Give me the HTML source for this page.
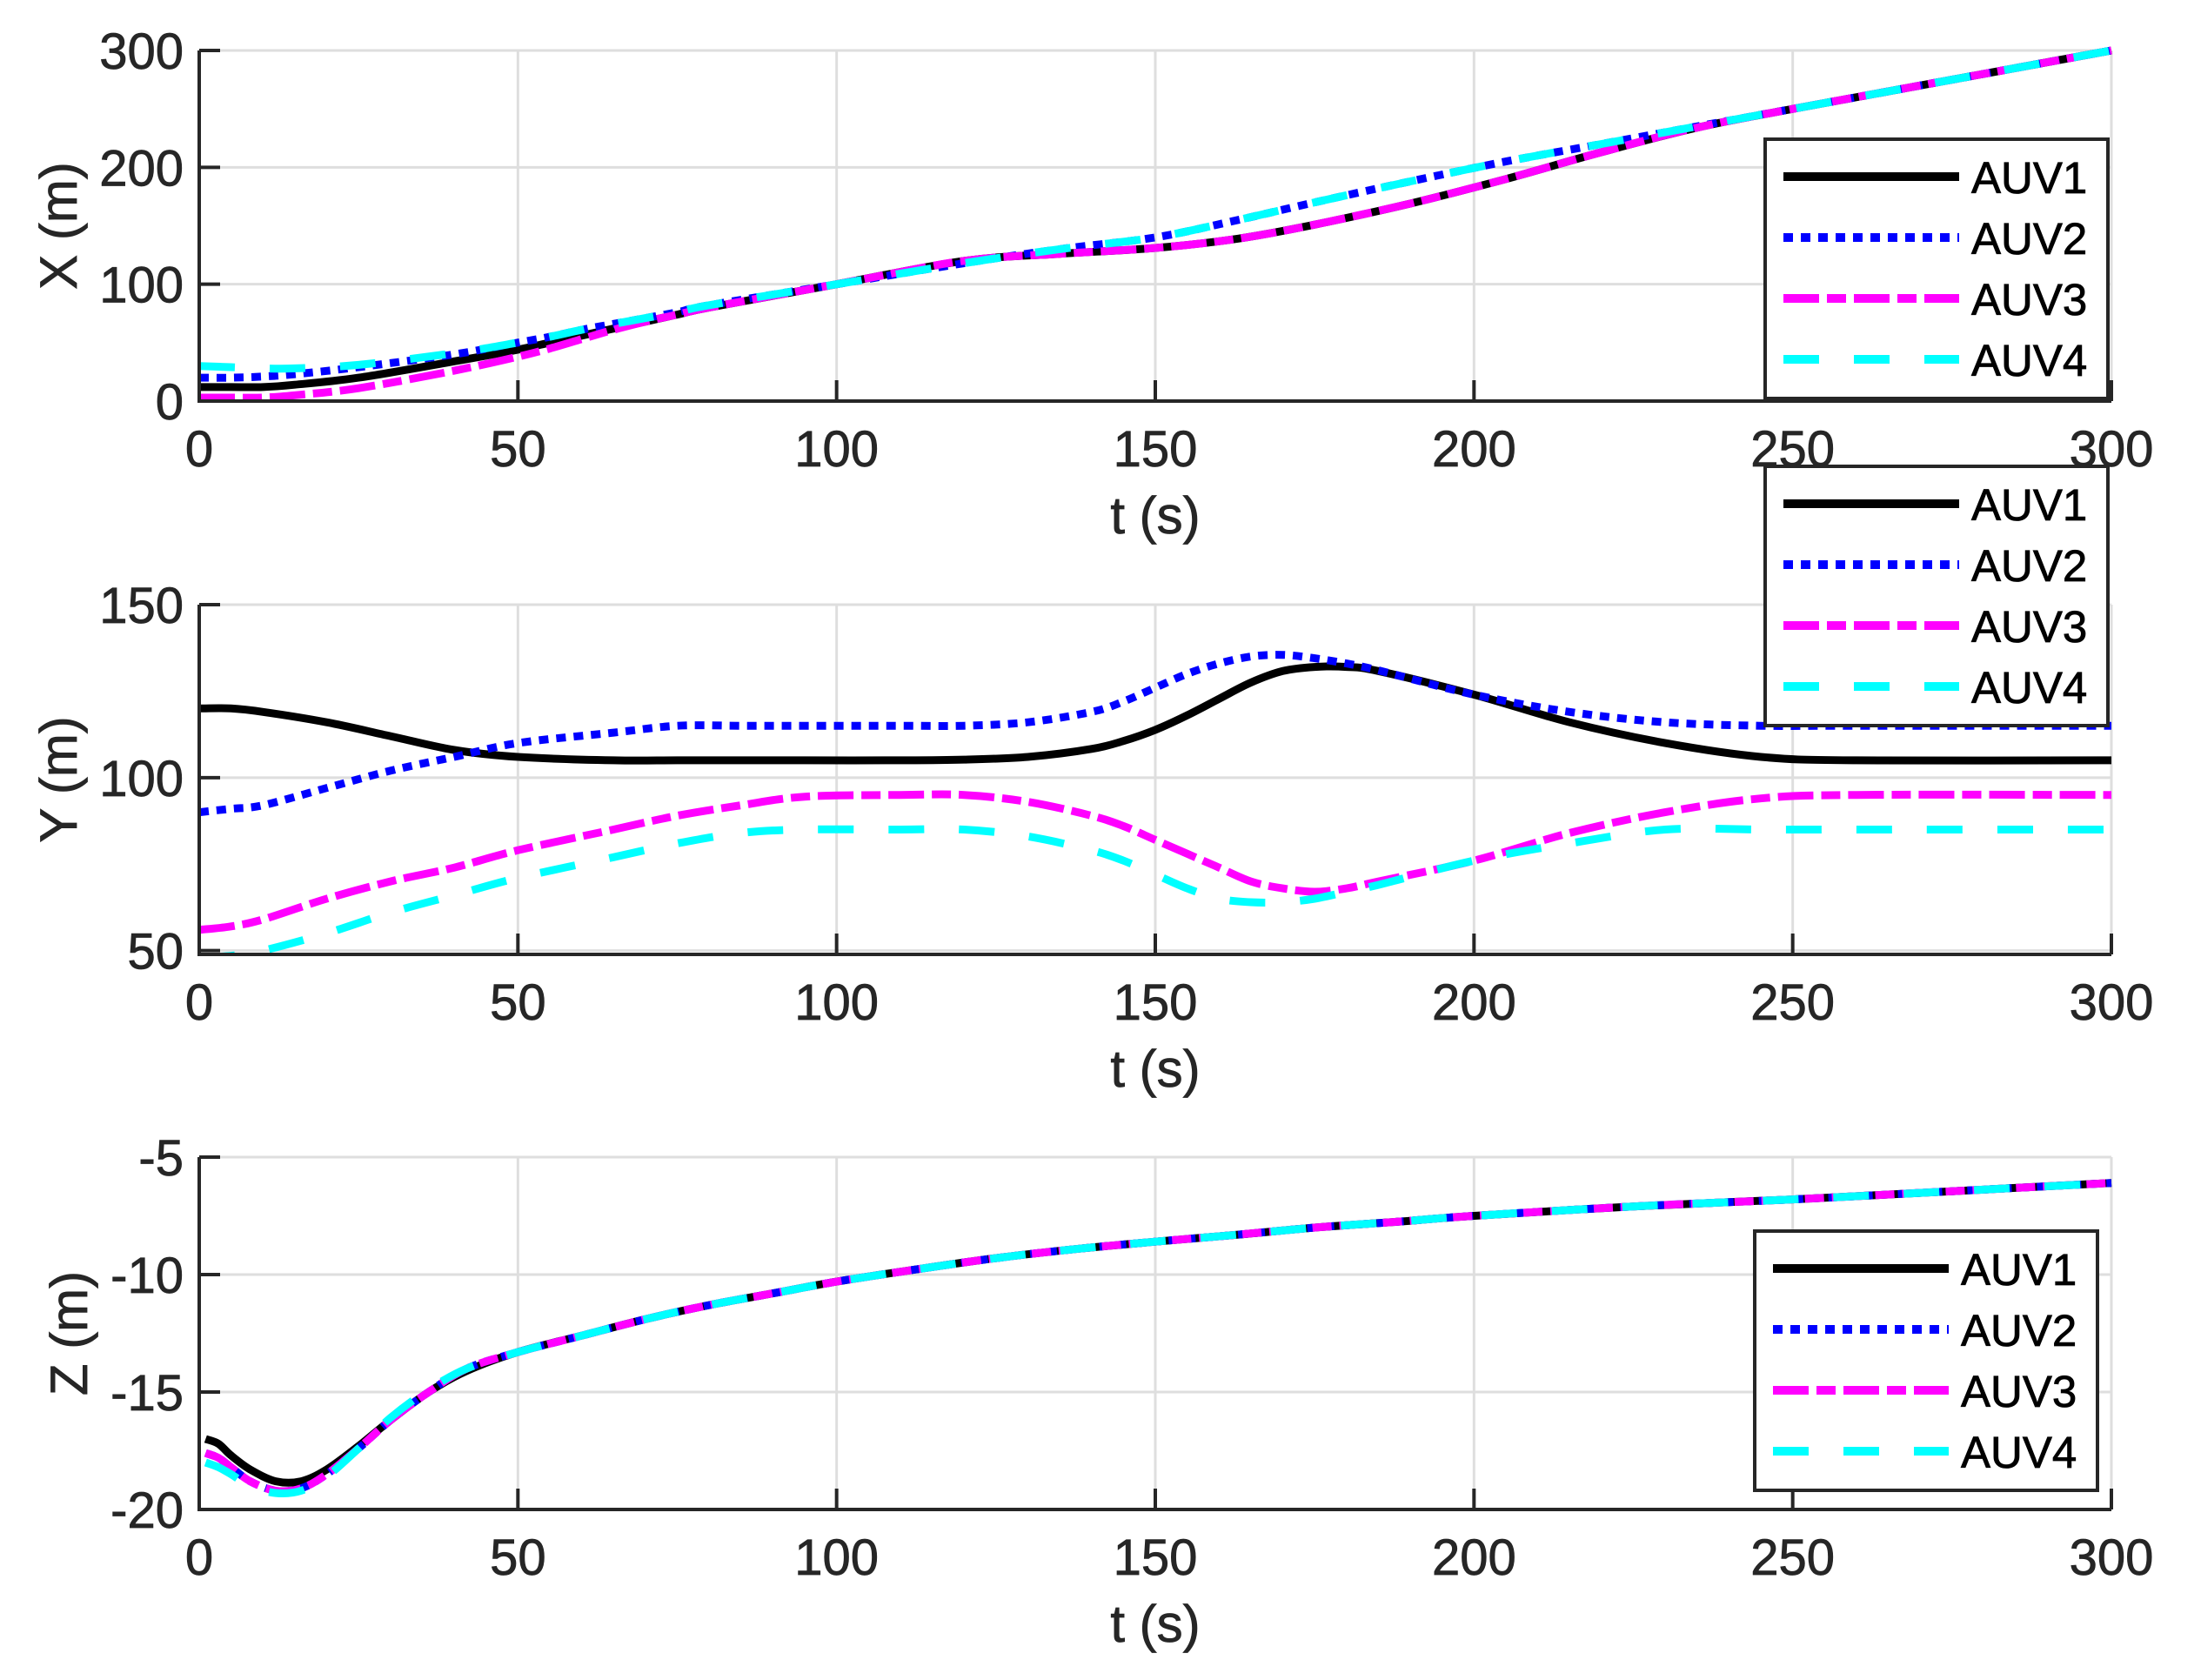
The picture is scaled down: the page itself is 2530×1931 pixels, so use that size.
<!DOCTYPE html>
<html><head><meta charset="utf-8">
<style>
html,body{margin:0;padding:0;background:#fff;}
svg{display:block;font-family:"Liberation Sans",Arial,sans-serif;}
</style></head>
<body>
<svg id="fig" width="2530" height="1931" viewBox="0 0 2530 1931" xmlns="http://www.w3.org/2000/svg"></svg>
<script>
const tX = [0,5,10,15,25,40,50,55,60,65,70,75,80,100,120,135,150,163,175,190,205,220,235,250,275,300];
const xAUV1 = [12,12,12,14,20,34,44,50,56,62,68,74,80,100,120,126,131,139,151,169,190,213,234,250,275,300];
const xAUV2 = [20,20,21,23,29,40,50,55,61,66,71,76,82,100,118,130,140,155,170,188,205,220,235,250,275,300];
const xAUV3 = [3,3,3,5,11,26,38,45,53,61,68,74,80,100,120,126,131,139,151,169,190,213,234,250,275,300];
const xAUV4 = [30,29,28,28,31,41,50,55,61,66,71,76,82,100,118,130,140,155,170,188,205,220,235,250,275,300];

const tY = [0,5,10,20,30,40,50,65,75,85,95,110,120,130,140,145,150,155,160,165,170,175,180,185,200,215,230,245,260,300];
const yAUV1 = [120,120,119,116,112,108,106,105,105,105,105,105,105.2,106,108.3,110.6,113.8,118,122.8,127.5,130.8,132,132,130.8,124,116,110,106,105,105];
const yAUV2 = [90,91,92,97,102,106,110,113,115,115,115,115,115,116,119,122,126,130,133,135,135.5,134.5,133,131,124,119,116,115,115,115];
const yAUV3 = [56,57,59,65,70,74,79,85,89,92,94.5,95,95,93,89,86,82,78,74,70,68,67,68,70,76,84,90,94,95,95];
const yAUV4 = [48,48.5,50,55,61,66,71,77,81,84,85,85,85,83,79,76,72,68,65,64,64,65,67,69,76,81,85,85,85,85];

const tZ = [1,3,5,8,12,16,20,25,30,36,42,50,60,70,80,90,100,112,125,138,150,163,175,188,200,225,250,275,300];
const zAUV1 = [-17,-17.2,-17.7,-18.3,-18.8,-18.8,-18.3,-17.3,-16.2,-15.0,-14.1,-13.3,-12.6,-11.9,-11.3,-10.8,-10.3,-9.8,-9.3,-8.9,-8.6,-8.3,-8.0,-7.75,-7.5,-7.1,-6.8,-6.45,-6.1];
const zAUV2 = [-17.6,-17.8,-18.2,-18.8,-19.2,-19.1,-18.5,-17.4,-16.2,-15.0,-14.0,-13.3,-12.6,-11.9,-11.3,-10.8,-10.3,-9.8,-9.3,-8.9,-8.6,-8.3,-8.0,-7.75,-7.5,-7.1,-6.8,-6.45,-6.1];
const zAUV3 = [-17.6,-17.8,-18.2,-18.8,-19.2,-19.1,-18.5,-17.4,-16.2,-15.0,-14.0,-13.3,-12.6,-11.9,-11.3,-10.8,-10.3,-9.8,-9.3,-8.9,-8.6,-8.3,-8.0,-7.75,-7.5,-7.1,-6.8,-6.45,-6.1];
const zAUV4 = [-18.0,-18.2,-18.5,-19.0,-19.3,-19.2,-18.6,-17.4,-16.1,-14.9,-14.0,-13.3,-12.6,-11.9,-11.3,-10.8,-10.3,-9.8,-9.3,-8.9,-8.6,-8.3,-8.0,-7.75,-7.5,-7.1,-6.8,-6.45,-6.1];

const xTicks = [0,50,100,150,200,250,300];
const xTickLabels = ["0","50","100","150","200","250","300"];
const p1Ticks = [0,100,200,300];
const p1TickLabels = ["0","100","200","300"];
const p2Ticks = [50,100,150];
const p2TickLabels = ["50","100","150"];
const p3Ticks = [-20,-15,-10,-5];
const p3TickLabels = ["-20","-15","-10","-5"];
const legendLabels = ["AUV1","AUV2","AUV3","AUV4"];

const NS = "http://www.w3.org/2000/svg";
const svg = document.getElementById('fig');
function mk(tag, attrs, parent){
  const e = document.createElementNS(NS, tag);
  for (const k in attrs) e.setAttribute(k, attrs[k]);
  (parent||svg).appendChild(e);
  return e;
}
const styles = [
  {color:'#000000', dash:null},
  {color:'#0000ff', dash:'11 9'},
  {color:'#ff00ff', dash:'41 9 22 9'},
  {color:'#00ffff', dash:'41 40'}
];
const L = 229, R = 2427;
function xScale(t){ return L + (t-0)/(300-0)*(R-L); }

function smoothPath(px){
  let d = 'M' + px[0][0].toFixed(1) + ',' + px[0][1].toFixed(1);
  for (let i=0;i<px.length-1;i++){
    const p0 = px[i-1]||px[i], p1=px[i], p2=px[i+1], p3=px[i+2]||px[i+1];
    const c1x = p1[0]+(p2[0]-p0[0])/6, c1y = p1[1]+(p2[1]-p0[1])/6;
    const c2x = p2[0]-(p3[0]-p1[0])/6, c2y = p2[1]-(p3[1]-p1[1])/6;
    d += ' C'+c1x.toFixed(1)+','+c1y.toFixed(1)+' '+c2x.toFixed(1)+','+c2y.toFixed(1)+' '+p2[0].toFixed(1)+','+p2[1].toFixed(1);
  }
  return d;
}

function panel(cfg){
  const g = mk('g', {});
  
  
  const yScale = v => cfg.bottom - (v-cfg.ymin)/(cfg.ymax-cfg.ymin)*(cfg.bottom-cfg.top);
  xTicks.forEach(t=>{
    const gl = mk('line',{x1:xScale(t),x2:xScale(t),y1:cfg.top,y2:cfg.bottom,stroke:'#dedede','stroke-width':3},g);
    
    
  });
  cfg.yTicks.forEach(v=>{
    const gl = mk('line',{x1:L,x2:R,y1:yScale(v),y2:yScale(v),stroke:'#dedede','stroke-width':3},g);
    
    
  });
  const cid = 'clip'+cfg.name;
  const cp = mk('clipPath',{id:cid},g);
  mk('rect',{x:L,y:cfg.top-5,width:R-L+5,height:cfg.bottom-cfg.top+5},cp);
  cfg.series.forEach((s,i)=>{
    const px = cfg.t.map((tv,j)=>[xScale(tv), yScale(s[j])]);
    const a = {d:smoothPath(px),fill:'none',stroke:styles[i].color,'stroke-width':9,'clip-path':'url(#'+cid+')'};
    if (styles[i].dash) a['stroke-dasharray']=styles[i].dash;
    const p = mk('path',a,g);
    
    
  });
  const ax = mk('path',{d:'M'+L+','+cfg.top+' L'+L+','+cfg.bottom+' L'+R+','+cfg.bottom,fill:'none',stroke:'#262626','stroke-width':4},g);
  
  
  cfg.yTicks.forEach((v,i)=>{
    const y = yScale(v);
    mk('line',{x1:L,x2:L+24,y1:y,y2:y,stroke:'#262626','stroke-width':4},g);
    const tx = mk('text',{x:211,y:y+21,'text-anchor':'end','font-size':58,fill:'#262626',stroke:'#262626','stroke-width':0.8},g);
    tx.textContent = cfg.yLabels[i];
    
    
  });
  xTicks.forEach((t,i)=>{
    const x = xScale(t);
    mk('line',{x1:x,x2:x,y1:cfg.bottom,y2:cfg.bottom-24,stroke:'#262626','stroke-width':4},g);
    const tx = mk('text',{x:x,y:cfg.bottom+75,'text-anchor':'middle','font-size':58,fill:'#262626',stroke:'#262626','stroke-width':0.8},g);
    tx.textContent = xTickLabels[i];
    
    
  });
  const xl = mk('text',{x:1328,y:cfg.bottom+152,'text-anchor':'middle','font-size':60,fill:'#262626',stroke:'#262626','stroke-width':0.8},g);
  xl.textContent = 't (s)';
  
  
  const ym = (cfg.top+cfg.bottom)/2;
  const yl = mk('text',{x:0,y:0,'text-anchor':'middle','font-size':60,fill:'#262626',stroke:'#262626','stroke-width':0.8,transform:'translate('+cfg.ylx+','+ym+') rotate(-90)'},g);
  yl.textContent = cfg.ylabel;
  
  
  const lg = mk('g',{},g);
  
  
  const lx = cfg.legX, ly = cfg.legY;
  mk('rect',{x:lx,y:ly,width:394,height:298,fill:'#fff',stroke:'#262626','stroke-width':4},lg);
  legendLabels.forEach((lab,i)=>{
    const ey = ly + 43 + i*70;
    const la = {x1:lx+21,x2:lx+223,y1:ey,y2:ey,stroke:styles[i].color,'stroke-width':10};
    if (styles[i].dash) la['stroke-dasharray']=styles[i].dash;
    const ln = mk('line',la,lg);
    
    
    const tx = mk('text',{x:lx+237,y:ey+19,'font-size':51,fill:'#000',stroke:'#000','stroke-width':0.8},lg);
    tx.textContent = lab;
    
    
  });
}

panel({name:'x-panel',top:58,bottom:461,ymin:0,ymax:300,yTicks:p1Ticks,yLabels:p1TickLabels,
  t:tX,series:[xAUV1,xAUV2,xAUV3,xAUV4],ylabel:'X (m)',ylx:88,legX:2029,legY:160});
panel({name:'y-panel',top:695,bottom:1097,ymin:48.9,ymax:150,yTicks:p2Ticks,yLabels:p2TickLabels,
  t:tY,series:[yAUV1,yAUV2,yAUV3,yAUV4],ylabel:'Y (m)',ylx:88,legX:2029,legY:536});
panel({name:'z-panel',top:1330,bottom:1735,ymin:-20,ymax:-5,yTicks:p3Ticks,yLabels:p3TickLabels,
  t:tZ,series:[zAUV1,zAUV2,zAUV3,zAUV4],ylabel:'Z (m)',ylx:100,legX:2017,legY:1415});
</script>
</body></html>
